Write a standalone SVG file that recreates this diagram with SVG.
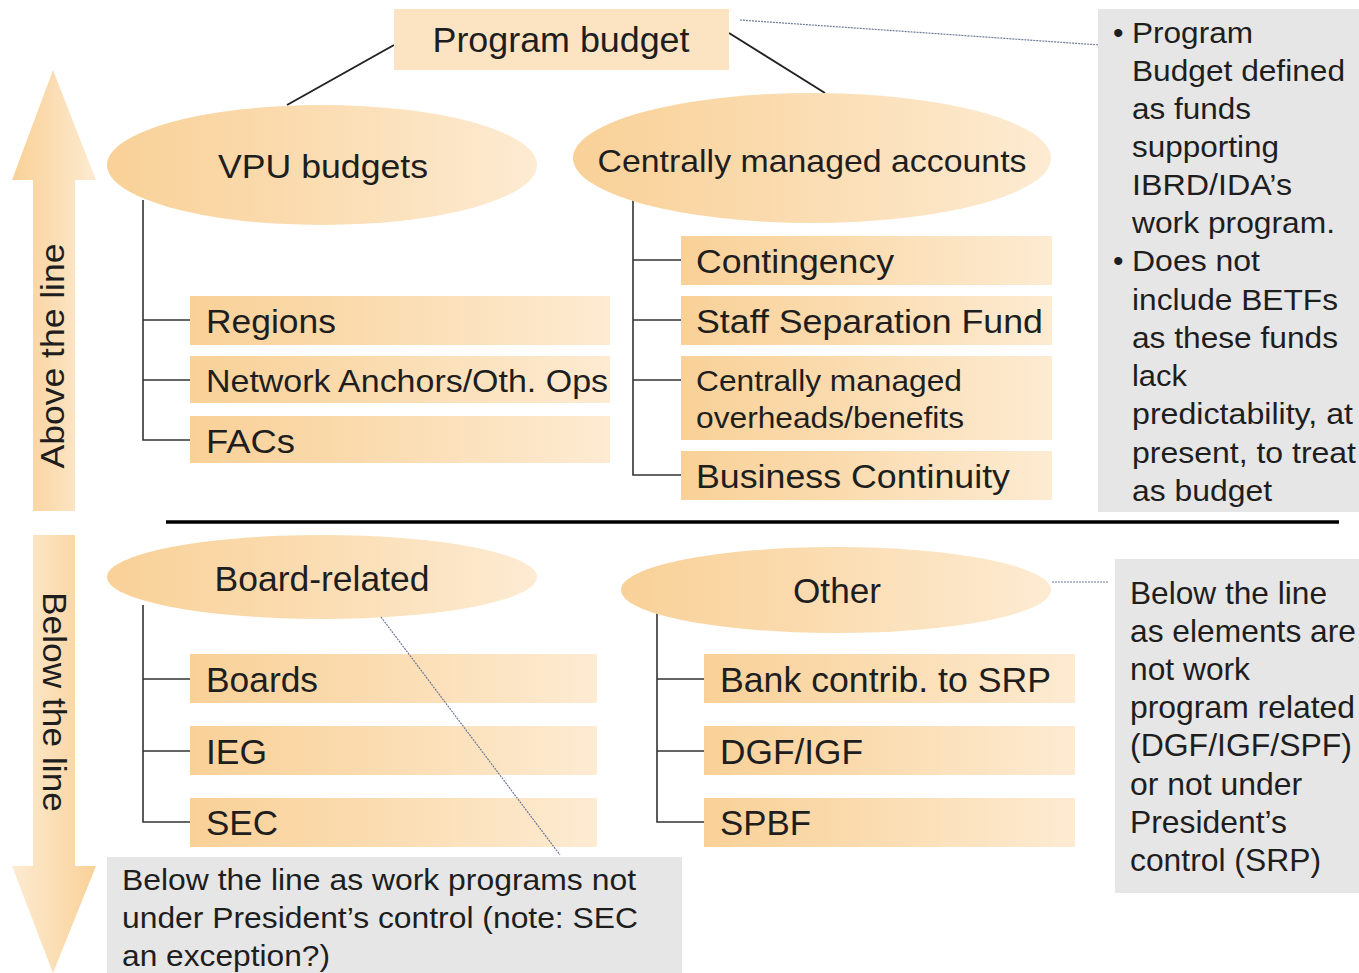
<svg xmlns="http://www.w3.org/2000/svg" width="1359" height="973" viewBox="0 0 1359 973">
  <defs>
    <linearGradient id="gOrange" x1="0" y1="0" x2="1" y2="0">
      <stop offset="0" stop-color="#F9D198"/>
      <stop offset="0.35" stop-color="#FAD9AA"/>
      <stop offset="1" stop-color="#FDEBD2"/>
    </linearGradient>
    <linearGradient id="gOrangeRev" x1="0" y1="0" x2="1" y2="0">
      <stop offset="0" stop-color="#FDEBD2"/>
      <stop offset="1" stop-color="#F9D198"/>
    </linearGradient>
    <style>
      text { font-family: "Liberation Sans", Arial, sans-serif; fill: #1e1e1e; }
      .box { fill: url(#gOrange); }
      .ell { fill: url(#gOrange); }
      .note { fill: #E6E6E6; }
      .lbl { font-size: 33px; }
      .tall { font-size: 35px; }
      .sm { font-size: 30px; }
      .nar { font-size: 32px; }
      .tree { fill: none; stroke: #333; stroke-width: 1.6; }
      .link { fill: none; stroke: #222; stroke-width: 2; }
      .dot { fill: none; stroke: #6f7a99; stroke-width: 1.2; stroke-dasharray: 2 1; }
    </style>
  </defs>
  <rect width="1359" height="973" fill="#FFFFFF"/>

  <!-- side arrows -->
  <g id="arrow-above">
    <path d="M33,511 L33,180 L12,180 L53,70 L96,180 L75,180 L75,511 Z" fill="url(#gOrange)"/>
    <text class="lbl" transform="translate(64,356) rotate(-90)" text-anchor="middle" textLength="225" lengthAdjust="spacingAndGlyphs">Above the line</text>
  </g>
  <g id="arrow-below">
    <path d="M33,535 L75,535 L75,866 L96,866 L53,973 L12,866 L33,866 Z" fill="url(#gOrangeRev)"/>
    <text class="lbl" transform="translate(43,702) rotate(90)" text-anchor="middle" textLength="220" lengthAdjust="spacingAndGlyphs">Below the line</text>
  </g>

  <!-- divider -->
  <line x1="166" y1="522" x2="1339" y2="522" stroke="#000" stroke-width="3.5"/>

  <!-- connectors -->
  <g id="connectors">
    <line class="link" x1="394" y1="45" x2="287" y2="105"/>
    <line class="link" x1="729" y1="33" x2="825" y2="93"/>
    <line class="dot" x1="740" y1="20" x2="1100" y2="45"/>
    <line class="dot" x1="1052" y1="582" x2="1108" y2="582"/>
    <path class="tree" d="M143,200 V440 H190 M143,320 H190 M143,380 H190"/>
    <path class="tree" d="M633,200 V475 H681 M633,260 H681 M633,320 H681 M633,380 H681"/>
    <path class="tree" d="M143,605 V822 H190 M143,679 H190 M143,751 H190"/>
    <path class="tree" d="M657,605 V822 H704 M657,679 H704 M657,751 H704"/>
  </g>

  <!-- top node -->
  <g id="program-budget">
    <rect x="394" y="9" width="335" height="61" fill="#FCE4C3"/>
    <text class="tall" x="561" y="52" text-anchor="middle" textLength="257" lengthAdjust="spacingAndGlyphs">Program budget</text>
  </g>

  <!-- above the line -->
  <g id="vpu-budgets">
    <ellipse class="ell" cx="322" cy="165" rx="215" ry="60"/>
    <text class="lbl" x="323" y="178" text-anchor="middle" textLength="210" lengthAdjust="spacingAndGlyphs">VPU budgets</text>
  </g>
  <g id="central-accounts">
    <ellipse class="ell" cx="812" cy="158" rx="239" ry="65"/>
    <text class="nar" x="812" y="172" text-anchor="middle" textLength="429" lengthAdjust="spacingAndGlyphs">Centrally managed accounts</text>
  </g>

  <g id="regions">
    <rect class="box" x="190" y="296" width="420" height="49"/>
    <text class="lbl" x="206" y="333" textLength="130" lengthAdjust="spacingAndGlyphs">Regions</text>
  </g>
  <g id="network-anchors">
    <rect class="box" x="190" y="356" width="420" height="47"/>
    <text class="nar" x="206" y="392" textLength="402" lengthAdjust="spacingAndGlyphs">Network Anchors/Oth. Ops</text>
  </g>
  <g id="facs">
    <rect class="box" x="190" y="416" width="420" height="47"/>
    <text class="lbl" x="206" y="453" textLength="89" lengthAdjust="spacingAndGlyphs">FACs</text>
  </g>

  <g id="contingency">
    <rect class="box" x="681" y="236" width="371" height="49"/>
    <text class="lbl" x="696" y="273" textLength="198" lengthAdjust="spacingAndGlyphs">Contingency</text>
  </g>
  <g id="staff-separation">
    <rect class="box" x="681" y="296" width="371" height="49"/>
    <text class="lbl" x="696" y="333" textLength="347" lengthAdjust="spacingAndGlyphs">Staff Separation Fund</text>
  </g>
  <g id="central-overheads">
    <rect class="box" x="681" y="356" width="371" height="84"/>
    <text class="sm" x="696" y="391" textLength="266" lengthAdjust="spacingAndGlyphs">Centrally managed</text>
    <text class="sm" x="696" y="428" textLength="268" lengthAdjust="spacingAndGlyphs">overheads/benefits</text>
  </g>
  <g id="business-continuity">
    <rect class="box" x="681" y="451" width="371" height="49"/>
    <text class="lbl" x="696" y="488" textLength="314" lengthAdjust="spacingAndGlyphs">Business Continuity</text>
  </g>

  <!-- note on program budget -->
  <g id="note-budget">
    <rect class="note" x="1098" y="9" width="261" height="503"/>
    <g class="sm">
      <text x="1113" y="43">•</text>
      <text x="1132" y="43" textLength="121" lengthAdjust="spacingAndGlyphs">Program</text>
      <text x="1132" y="81" textLength="213" lengthAdjust="spacingAndGlyphs">Budget defined</text>
      <text x="1132" y="119" textLength="119" lengthAdjust="spacingAndGlyphs">as funds</text>
      <text x="1132" y="157" textLength="147" lengthAdjust="spacingAndGlyphs">supporting</text>
      <text x="1132" y="195" textLength="160" lengthAdjust="spacingAndGlyphs">IBRD/IDA’s</text>
      <text x="1132" y="233" textLength="203" lengthAdjust="spacingAndGlyphs">work program.</text>
      <text x="1113" y="271">•</text>
      <text x="1132" y="271" textLength="128" lengthAdjust="spacingAndGlyphs">Does not</text>
      <text x="1132" y="310" textLength="206" lengthAdjust="spacingAndGlyphs">include BETFs</text>
      <text x="1132" y="348" textLength="206" lengthAdjust="spacingAndGlyphs">as these funds</text>
      <text x="1132" y="386" textLength="55" lengthAdjust="spacingAndGlyphs">lack</text>
      <text x="1132" y="424" textLength="221" lengthAdjust="spacingAndGlyphs">predictability, at</text>
      <text x="1132" y="463" textLength="224" lengthAdjust="spacingAndGlyphs">present, to treat</text>
      <text x="1132" y="501" textLength="140" lengthAdjust="spacingAndGlyphs">as budget</text>
    </g>
  </g>

  <!-- below the line -->
  <g id="board-related">
    <ellipse class="ell" cx="322" cy="577" rx="215" ry="42"/>
    <text class="tall" x="322" y="591" text-anchor="middle" textLength="215" lengthAdjust="spacingAndGlyphs">Board-related</text>
  </g>
  <g id="other">
    <ellipse class="ell" cx="836" cy="590" rx="215" ry="43"/>
    <text class="tall" x="837" y="603" text-anchor="middle" textLength="88" lengthAdjust="spacingAndGlyphs">Other</text>
  </g>

  <g id="boards">
    <rect class="box" x="190" y="654" width="407" height="49"/>
    <text class="tall" x="206" y="692" textLength="112" lengthAdjust="spacingAndGlyphs">Boards</text>
  </g>
  <g id="ieg">
    <rect class="box" x="190" y="726" width="407" height="49"/>
    <text class="tall" x="206" y="764" textLength="61" lengthAdjust="spacingAndGlyphs">IEG</text>
  </g>
  <g id="sec">
    <rect class="box" x="190" y="798" width="407" height="49"/>
    <text class="tall" x="206" y="835" textLength="72" lengthAdjust="spacingAndGlyphs">SEC</text>
  </g>

  <g id="srp">
    <rect class="box" x="704" y="654" width="371" height="49"/>
    <text class="tall" x="720" y="692" textLength="331" lengthAdjust="spacingAndGlyphs">Bank contrib. to SRP</text>
  </g>
  <g id="dgf-igf">
    <rect class="box" x="704" y="726" width="371" height="49"/>
    <text class="tall" x="720" y="764" textLength="143" lengthAdjust="spacingAndGlyphs">DGF/IGF</text>
  </g>
  <g id="spbf">
    <rect class="box" x="704" y="798" width="371" height="49"/>
    <text class="tall" x="720" y="835" textLength="91" lengthAdjust="spacingAndGlyphs">SPBF</text>
  </g>

  <!-- callout leader from Board-related down to its note, drawn above the boxes -->
  <g id="connectors-callout">
    <line class="dot" x1="381" y1="617" x2="560" y2="855"/>
  </g>

  <!-- note on board-related -->
  <g id="note-board">
    <rect class="note" x="107" y="857" width="575" height="116"/>
    <g class="sm">
      <text x="122" y="890" textLength="514" lengthAdjust="spacingAndGlyphs">Below the line as work programs not</text>
      <text x="122" y="928" textLength="516" lengthAdjust="spacingAndGlyphs">under President’s control (note: SEC</text>
      <text x="122" y="966" textLength="208" lengthAdjust="spacingAndGlyphs">an exception?)</text>
    </g>
  </g>

  <!-- note on other -->
  <g id="note-other">
    <rect class="note" x="1115" y="559" width="244" height="334"/>
    <g class="nar">
      <text x="1130" y="604" textLength="197" lengthAdjust="spacingAndGlyphs">Below the line</text>
      <text x="1130" y="642" textLength="226" lengthAdjust="spacingAndGlyphs">as elements are</text>
      <text x="1130" y="680" textLength="120" lengthAdjust="spacingAndGlyphs">not work</text>
      <text x="1130" y="718" textLength="225" lengthAdjust="spacingAndGlyphs">program related</text>
      <text x="1130" y="756" textLength="222" lengthAdjust="spacingAndGlyphs">(DGF/IGF/SPF)</text>
      <text x="1130" y="795" textLength="172" lengthAdjust="spacingAndGlyphs">or not under</text>
      <text x="1130" y="833" textLength="157" lengthAdjust="spacingAndGlyphs">President’s</text>
      <text x="1130" y="871" textLength="191" lengthAdjust="spacingAndGlyphs">control (SRP)</text>
    </g>
  </g>
</svg>
